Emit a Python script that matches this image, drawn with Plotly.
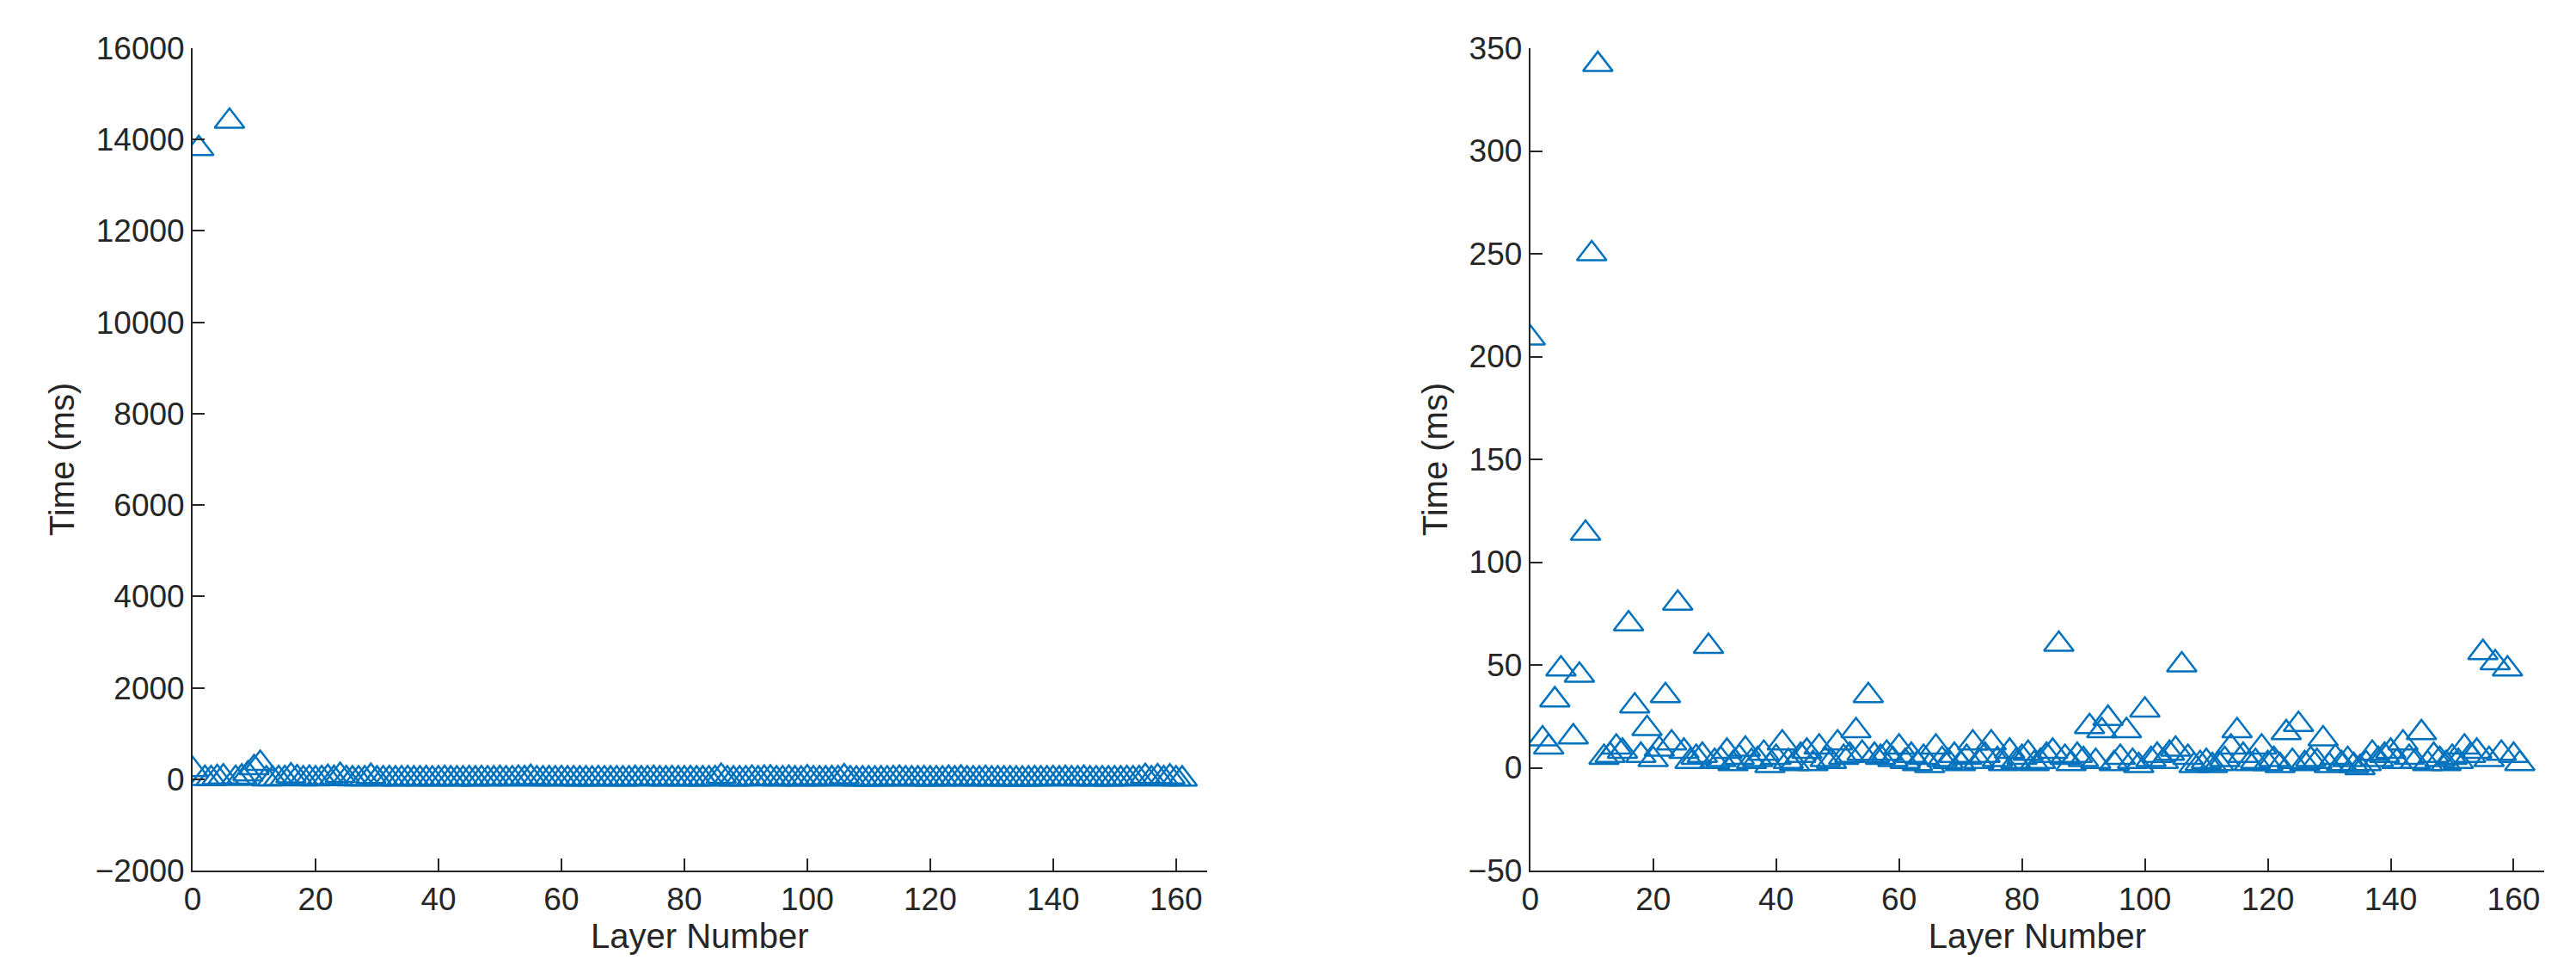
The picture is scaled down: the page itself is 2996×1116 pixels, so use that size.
import plotly.graph_objects as go
from plotly.subplots import make_subplots

# Layer processing time (ms)
layers = list(range(162))
time_ms = [
    209, 15, 14, 10, 33, 48, 14400, 15, 45, 114,
    250, 342, 5, 6, 10, 8, 70, 30, 6, 19,
    4, 9, 35, 12, 80, 8, 3, 5, 6, 59,
    3, 4, 8, 2, 5, 9, 3, 4, 7, 1,
    5, 12, 3, 2, 6, 8, 2, 10, 4, 3,
    12, 5, 6, 18, 7, 35, 6, 5, 7, 4,
    10, 3, 6, 2, 5, 1, 10, 4, 3, 6,
    2, 5, 12, 3, 6, 12, 4, 2, 8, 3,
    5, 7, 2, 3, 6, 8, 60, 5, 2, 6,
    4, 20, 3, 18, 24, 2, 5, 18, 3, 1,
    28, 4, 6, 3, 7, 9, 50, 5, 1, 2,
    3, 1, 2, 4, 10, 18, 6, 2, 3, 10,
    2, 4, 1, 17, 3, 21, 2, 4, 3, 14,
    1, 5, 2, 4, 1, 0, 2, 7, 4, 6,
    8, 3, 12, 5, 3, 17, 2, 6, 4, 2,
    5, 3, 10, 6, 8, 56, 4, 51, 7, 48,
    6, 2,
]
time_ms[1] = 13800  # outlier visible only in the full-range plot

blue = "#0072BD"
font = dict(family="Liberation Sans, Arial, sans-serif", size=37, color="#262626")

fig = make_subplots(rows=1, cols=2, horizontal_spacing=0.126)
for c in (1, 2):
    fig.add_trace(go.Scatter(x=layers, y=time_ms, mode="markers",
                             marker=dict(symbol="triangle-up-open", size=30,
                                         color=blue, line=dict(width=2.5)),
                             showlegend=False), row=1, col=c)

axis_common = dict(showgrid=False, zeroline=False, showline=True, linecolor="#262626",
                   linewidth=2, ticks="inside", ticklen=14, tickwidth=2,
                   tickcolor="#262626", tickfont=font, tickformat="d")
fig.update_xaxes(axis_common, range=[0, 165], dtick=20,
                 title=dict(text="Layer Number", font=dict(size=40, color="#262626"), standoff=2))
fig.update_yaxes(axis_common, title=dict(text="Time (ms)", font=dict(size=40, color="#262626"), standoff=12))
fig.update_xaxes(domain=[0.069, 0.464], row=1, col=1)
fig.update_xaxes(domain=[0.590, 0.985], row=1, col=2)
fig.update_yaxes(range=[-2000, 16000], dtick=2000, row=1, col=1)
fig.update_yaxes(range=[-50, 350], dtick=50, row=1, col=2)
fig.update_yaxes(domain=[0, 1])

fig.update_layout(width=2996, height=1116, paper_bgcolor="white", plot_bgcolor="white",
                  margin=dict(l=0, r=0, t=48, b=112), font=font)
fig.write_html("out.html")
